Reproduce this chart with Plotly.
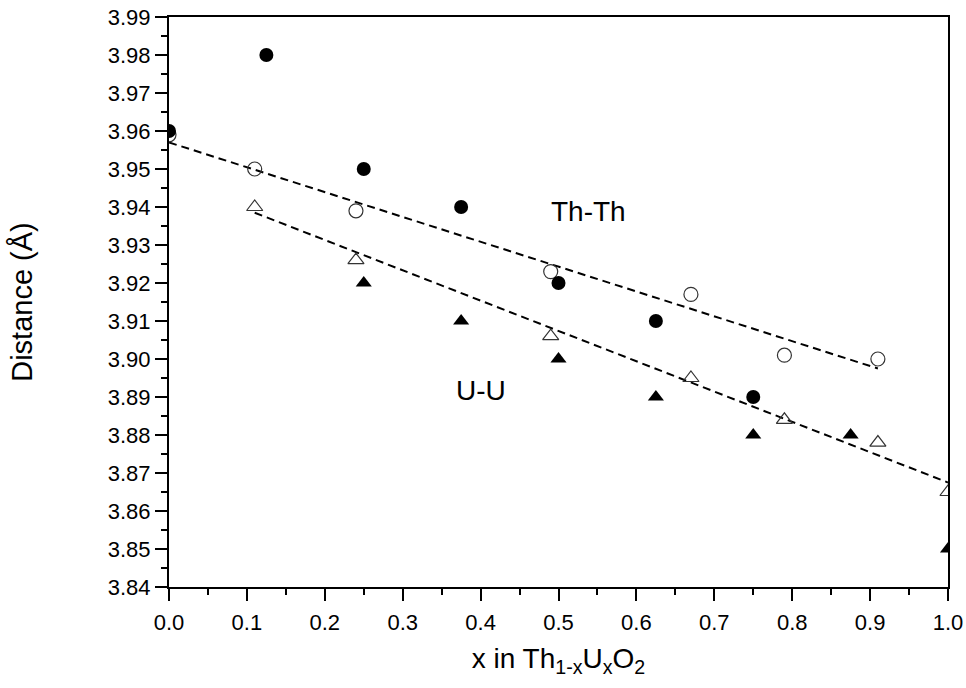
import plotly.graph_objects as go

# Th-Th distances
thth_filled_x = [0.0, 0.125, 0.25, 0.375, 0.5, 0.625, 0.75]
thth_filled_y = [3.960, 3.980, 3.950, 3.940, 3.920, 3.910, 3.890]
thth_open_x = [0.0, 0.11, 0.24, 0.49, 0.67, 0.79, 0.91]
thth_open_y = [3.959, 3.950, 3.939, 3.923, 3.917, 3.901, 3.900]

# U-U distances
uu_filled_x = [0.25, 0.375, 0.5, 0.625, 0.75, 0.875, 1.0]
uu_filled_y = [3.920, 3.910, 3.900, 3.890, 3.880, 3.880, 3.850]
uu_open_x = [0.11, 0.24, 0.49, 0.67, 0.79, 0.91, 1.0]
uu_open_y = [3.940, 3.926, 3.906, 3.895, 3.884, 3.878, 3.865]

# Linear fits (endpoints)
thth_fit_x = [0.0, 0.91]
thth_fit_y = [3.957, 3.8975]
uu_fit_x = [0.11, 1.0]
uu_fit_y = [3.9385, 3.8675]

FONT = "Arial, 'Liberation Sans', sans-serif"

fig = go.Figure()

fig.add_trace(go.Scatter(x=thth_fit_x, y=thth_fit_y, mode="lines",
                         line=dict(color="black", width=2, dash="8px,5px"), showlegend=False))
fig.add_trace(go.Scatter(x=uu_fit_x, y=uu_fit_y, mode="lines",
                         line=dict(color="black", width=2, dash="8px,5px"), showlegend=False))

fig.add_trace(go.Scatter(x=thth_open_x, y=thth_open_y, mode="markers",
                         marker=dict(symbol="circle-open", size=14, color="#333333", line=dict(width=1.2)),
                         showlegend=False))
fig.add_trace(go.Scatter(x=uu_open_x, y=uu_open_y, mode="markers",
                         marker=dict(symbol="triangle-up-open", size=14, color="#333333", line=dict(width=1.2)),
                         showlegend=False))
fig.add_trace(go.Scatter(x=thth_filled_x, y=thth_filled_y, mode="markers",
                         marker=dict(symbol="circle", size=14, color="black"),
                         showlegend=False))
fig.add_trace(go.Scatter(x=uu_filled_x, y=uu_filled_y, mode="markers",
                         marker=dict(symbol="triangle-up", size=14, color="black"),
                         showlegend=False))

fig.add_annotation(x=0.538, y=3.9387, text="Th-Th", showarrow=False,
                   font=dict(family=FONT, size=28, color="black"))
fig.add_annotation(x=0.40, y=3.8916, text="U-U", showarrow=False,
                   font=dict(family=FONT, size=28, color="black"))

axis_common = dict(showline=True, linecolor="black", linewidth=2, mirror=True,
                   ticks="outside", ticklen=12, tickwidth=2, tickcolor="black",
                   showgrid=False, zeroline=False, automargin=False,
                   tickfont=dict(family=FONT, size=22, color="black"))

fig.update_xaxes(range=[0, 1.0], dtick=0.1, tick0=0, tickformat=".1f",
                 ticklabelstandoff=3,
                 minor=dict(dtick=0.05, ticks="outside", ticklen=6, tickwidth=2, tickcolor="black", showgrid=False),
                 title=dict(text="x in Th<sub>1-x</sub>U<sub>x</sub>O<sub>2</sub>",
                            font=dict(family=FONT, size=28, color="black"), standoff=14),
                 **axis_common)
fig.update_yaxes(range=[3.84, 3.99], dtick=0.01, tick0=3.84, tickformat=".2f",
                 minor=dict(dtick=0.005, ticks="outside", ticklen=6, tickwidth=2, tickcolor="black", showgrid=False),
                 title=dict(text="Distance (Å)", font=dict(family=FONT, size=29, color="black"), standoff=67),
                 **axis_common)

fig.update_layout(width=966, height=688, margin=dict(l=169, r=18, t=17, b=101),
                  plot_bgcolor="white", paper_bgcolor="white", showlegend=False)

fig.write_html("out.html", config={"displayModeBar": False},
               post_script="document.body.style.margin='0';document.body.style.overflow='hidden';")
